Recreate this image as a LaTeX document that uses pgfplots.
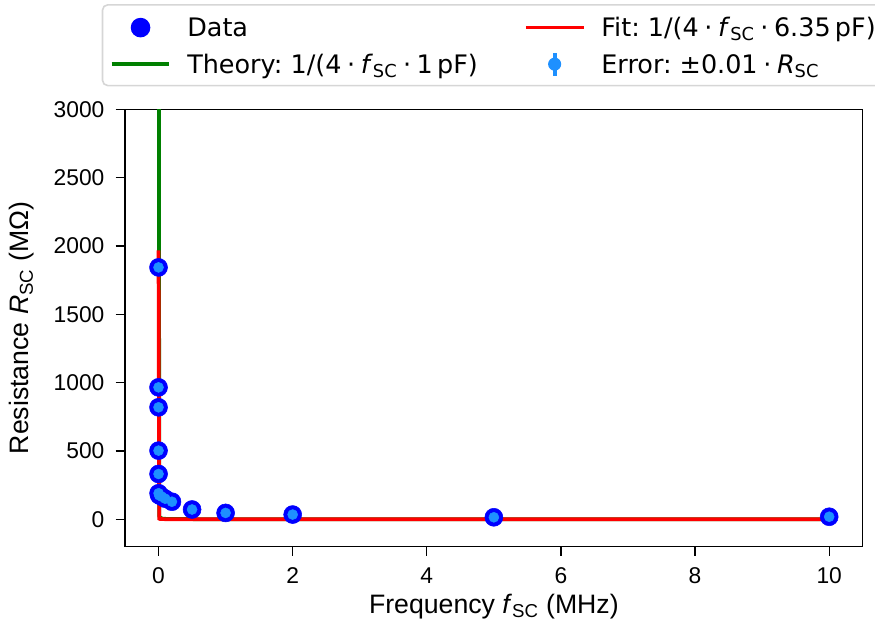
\documentclass[border=0pt]{standalone}
\usepackage{fontspec}
\setmainfont{Liberation Sans}
\newfontfamily\legfont{DejaVu Sans}
\usepackage{pgfplots}
\pgfplotsset{compat=1.18}
\frenchspacing

\definecolor{dodger}{RGB}{30,144,255}
\definecolor{mplgreen}{RGB}{0,128,0}
\definecolor{legframe}{RGB}{214,214,214}

\newcommand{\fsc}{\textit{f}\textsubscript{SC}}
\newcommand{\Rsc}{\textit{R}\textsubscript{SC}}
\newcommand{\op}{\hspace{0.22em}·\hspace{0.22em}}

\begin{document}
\begin{tikzpicture}[font=\fontsize{17.1}{20}\selectfont]
\begin{axis}[
  scale only axis,
  width=553.3pt, height=327.9pt,
  xmin=-0.5, xmax=10.5,
  ymin=-200, ymax=3000,
  xtick={0,2,4,6,8,10},
  ytick={0,500,1000,1500,2000,2500,3000},
  tick align=outside,
  xtick pos=bottom, ytick pos=left,
  major tick length=7pt,
  axis line style={line width=1pt},
  every tick/.style={black, line width=1pt},
  /pgf/number format/assume math mode=true,
  /pgf/number format/1000 sep={},
  xticklabel style={inner sep=0pt, yshift=-8.5pt},
  yticklabel style={inner sep=0pt, xshift=-8.25pt},
  xlabel={Frequency \fsc{} (MHz)},
  ylabel={Resistance \Rsc{} (MΩ)},
  label style={font=\fontsize{20}{24}\selectfont},
  xlabel style={at={(axis description cs:0.5,-0.138)}, anchor=center},
  ylabel style={at={(axis description cs:-0.14,0.5)}, anchor=center},
  legend columns=2,
  legend style={
    at={(axis description cs:-0.0316,1.2409)}, anchor=north west,
    draw=legframe, line width=1.2pt, rounded corners=4pt,
    inner xsep=5.5pt, inner ysep=6pt,
    row sep=7.15pt,
    font=\legfont\fontsize{19.1}{22}\selectfont,
    nodes={inner xsep=0pt, inner ysep=0pt, text height=18pt, text depth=2.25pt, anchor=base west},
    /tikz/every odd column/.append style={column sep=12pt},
    /tikz/every even column/.append style={column sep=34.5pt},
  },
  legend image code/.code={\draw[#1] (0pt,6.9pt) -- (43.3pt,6.9pt);},
]

% legend entries, listed row by row
\addlegendimage{legend image code/.code={\fill[blue] (21.65pt,6.9pt) circle (6.75pt);}}
\addlegendentry{Data}
\addlegendimage{red, line width=2.8pt}
\addlegendentry{Fit: 1/(4\op\fsc\op 6.35\,pF)}
\addlegendimage{mplgreen, line width=2.8pt}
\addlegendentry{Theory: 1/(4\op\fsc\op 1\,pF)}
\addlegendimage{legend image code/.code={
  \draw[dodger, line width=3pt] (21.65pt,-1.7pt) -- (21.65pt,15.5pt);
  \fill[dodger] (21.65pt,6.9pt) circle (4.3pt);}}
\addlegendentry{Error: ±0.01\op\Rsc}

% measured points
\addplot[forget plot, only marks, mark=*, mark size=6.75pt,
  draw=blue, fill=blue] coordinates {
  (0.00002,1843) (0.00005,965) (0.0001,819) (0.0002,502) (0.0005,331)
  (0.001,190) (0.01,175) (0.05,165) (0.1,150) (0.2,128)
  (0.5,71) (1,46) (2,34) (5,14) (10,18)
};

% theory curve 1/(4 f * 1 pF)
\addplot[forget plot, mplgreen, line width=2.8pt] coordinates {
  (0.00002,12500) (0.01,25) (0.02,12.5) (0.05,5) (0.1,2.5)
  (0.5,0.5) (1,0.25) (2,0.125) (5,0.05) (10,0.025)
};

% fitted curve 1/(4 f * 6.35 pF)
\addplot[forget plot, red, line width=2.8pt] coordinates {
  (0.00002,1968.5) (0.01,3.937) (0.02,1.969) (0.05,0.787) (0.1,0.394)
  (0.5,0.0787) (1,0.0394) (2,0.0197) (5,0.00787) (10,0.00394)
};

% same points with +-1% error bars
\addplot[forget plot, only marks, mark=*, mark size=3.75pt,
  draw=dodger, fill=dodger,
  error bars/.cd, y dir=both, y explicit,
  error bar style={dodger, line width=2pt}, error mark=none]
  coordinates {
  (0.00002,1843) +- (0,18.43)
  (0.00005,965) +- (0,9.65)
  (0.0001,819) +- (0,8.19)
  (0.0002,502) +- (0,5.02)
  (0.0005,331) +- (0,3.31)
  (0.001,190) +- (0,1.90)
  (0.01,175) +- (0,1.75)
  (0.05,165) +- (0,1.65)
  (0.1,150) +- (0,1.50)
  (0.2,128) +- (0,1.28)
  (0.5,71) +- (0,0.71)
  (1,46) +- (0,0.46)
  (2,34) +- (0,0.34)
  (5,14) +- (0,0.14)
  (10,18) +- (0,0.18)
};
\end{axis}
\pgfresetboundingbox
\path (current axis.south west) ++(-93.75pt,-62.6pt) rectangle ++(656.25pt,472.5pt);
\end{tikzpicture}
\end{document}
